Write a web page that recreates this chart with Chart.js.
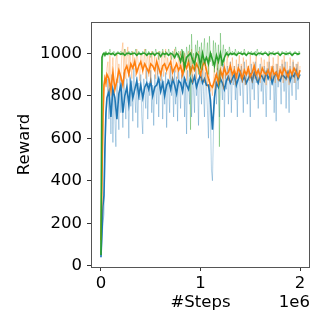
<!DOCTYPE html>
<html>
<head>
<meta charset="utf-8">
<script src="https://cdn.jsdelivr.net/npm/chart.js@4"></script>
<style>
  html, body { margin: 0; padding: 0; background: #fff; }
  #wrap { width: 332px; height: 332px; }
</style>
</head>
<body>
<div id="wrap"><canvas id="myChart" width="332" height="332"></canvas></div>
<script>
// smoothed curves: steps in thousands
const kSteps = [0, 10, 20, 30, 40, 50, 60,
  80, 100, 120, 140, 160, 180, 200, 220, 240, 260,
  280, 300, 320, 340, 360, 380, 400, 420, 440, 460,
  480, 500, 520, 540, 560, 580, 600, 620, 640, 660,
  680, 700, 720, 740, 760, 780, 800, 820, 840, 860,
  880, 900, 920, 940, 960, 980, 1000, 1020, 1040, 1060,
  1080, 1100, 1120, 1140, 1160, 1180, 1200, 1220, 1240, 1260,
  1280, 1300, 1320, 1340, 1360, 1380, 1400, 1420, 1440, 1460,
  1480, 1500, 1520, 1540, 1560, 1580, 1600, 1620, 1640, 1660,
  1680, 1700, 1720, 1740, 1760, 1780, 1800, 1820, 1840, 1860,
  1880, 1900, 1920, 1940, 1960, 1980, 2000];

// raw curves: steps in thousands
const rawSteps = [0, 10, 20, 30, 40, 50, 60, 70, 80, 90, 100, 110, 120, 130, 140, 150, 160, 170, 180, 190,
  200, 210, 220, 230, 240, 250, 260, 270, 280, 290, 300, 310, 320, 330, 340, 350, 360, 370, 380, 390,
  400, 410, 420, 430, 440, 450, 460, 470, 480, 490, 500, 510, 520, 530, 540, 550, 560, 570, 580, 590,
  600, 610, 620, 630, 640, 650, 660, 670, 680, 690, 700, 710, 720, 730, 740, 750, 760, 770, 780, 790,
  800, 810, 820, 830, 840, 850, 860, 870, 880, 890, 900, 910, 920, 930, 940, 950, 960, 970, 980, 990,
  1000, 1010, 1020, 1030, 1040, 1050, 1060, 1070, 1080, 1090, 1100, 1110, 1120, 1130, 1140, 1150, 1160, 1170, 1180, 1190,
  1200, 1210, 1220, 1230, 1240, 1250, 1260, 1270, 1280, 1290, 1300, 1310, 1320, 1330, 1340, 1350, 1360, 1370, 1380, 1390,
  1400, 1410, 1420, 1430, 1440, 1450, 1460, 1470, 1480, 1490, 1500, 1510, 1520, 1530, 1540, 1550, 1560, 1570, 1580, 1590,
  1600, 1610, 1620, 1630, 1640, 1650, 1660, 1670, 1680, 1690, 1700, 1710, 1720, 1730, 1740, 1750, 1760, 1770, 1780, 1790,
  1800, 1810, 1820, 1830, 1840, 1850, 1860, 1870, 1880, 1890, 1900, 1910, 1920, 1930, 1940, 1950, 1960, 1970, 1980, 1990,
  2000];

const blueRaw = [40, 120, 200, 240, 450, 700, 760, 880, 690, 850, 620, 900, 580, 820, 700, 560, 880, 760, 640, 900,
  720, 860, 650, 910, 780, 690, 880, 820, 600, 900, 750, 870, 680, 930, 800, 720, 890, 650, 860, 780,
  900, 700, 620, 880, 820, 740, 930, 690, 860, 800, 920, 720, 850, 660, 900, 830, 760, 940, 700, 880,
  820, 930, 690, 870, 760, 910, 650, 880, 840, 720, 940, 800, 870, 700, 920, 760, 890, 680, 930, 850,
  740, 900, 810, 950, 700, 880, 620, 920, 860, 760, 940, 700, 900, 830, 720, 950, 800, 880, 660, 920,
  870, 760, 940, 820, 700, 910, 850, 730, 600, 880, 700, 450, 400, 620, 800, 900, 760, 930, 840, 700,
  920, 860, 780, 950, 700, 900, 830, 940, 760, 880, 960, 720, 910, 850, 940, 780, 900, 700, 950, 860,
  800, 940, 880, 720, 960, 850, 910, 760, 940, 880, 700, 950, 830, 900, 780, 960, 860, 920, 740, 910,
  950, 820, 900, 760, 940, 870, 700, 930, 880, 960, 780, 910, 850, 940, 720, 900, 680, 950, 840, 920,
  880, 760, 950, 900, 820, 960, 740, 920, 870, 720, 940, 880, 800, 960, 860, 910, 780, 950, 830, 900,
  920];
const blueSmooth = [40, 150, 280, 330, 560, 720, 790,
  820, 700, 830, 790, 690, 810, 850, 720, 800, 840,
  760, 860, 790, 830, 870, 800, 850, 790, 840, 860,
  830, 870, 800, 840, 850, 880, 820, 860, 800, 850,
  870, 830, 880, 850, 810, 870, 860, 820, 880, 850,
  830, 880, 860, 890, 840, 870, 900, 860, 880, 850,
  850, 780, 640, 790, 860, 840, 880, 860, 830, 870,
  890, 860, 880, 900, 850, 880, 910, 870, 890, 860,
  880, 900, 870, 910, 880, 860, 900, 890, 870, 910,
  880, 900, 860, 890, 910, 880, 870, 900, 890, 880,
  910, 870, 900, 890, 920, 880, 900];

const orangeRaw = [100, 350, 600, 780, 900, 840, 930, 960, 820, 990, 800, 900, 980, 870, 830, 970, 1000, 860, 950, 900,
  870, 1010, 1050, 900, 1020, 880, 990, 1030, 890, 1000, 960, 880, 1010, 940, 980, 890, 1020, 970, 930, 870,
  990, 1000, 900, 960, 1020, 880, 970, 1000, 890, 990, 860, 1010, 950, 920, 1000, 880, 980, 900, 1010, 950,
  870, 990, 1010, 890, 960, 1020, 900, 980, 940, 880, 1000, 960, 870, 990, 1020, 910, 960, 880, 1000, 940,
  1010, 880, 980, 900, 1000, 960, 870, 990, 1010, 890, 950, 1020, 860, 980, 920, 1000, 880, 960, 1010, 900,
  950, 870, 990, 920, 860, 960, 900, 840, 980, 880, 820, 850, 800, 880, 940, 830, 900, 960, 850, 920,
  870, 980, 900, 830, 960, 880, 950, 990, 870, 940, 960, 860, 980, 900, 940, 850, 970, 880, 930, 990,
  880, 950, 860, 980, 920, 850, 970, 900, 940, 870, 990, 910, 860, 960, 880, 950, 990, 870, 930, 900,
  860, 980, 940, 880, 970, 900, 850, 960, 910, 990, 870, 940, 880, 980, 920, 860, 950, 900, 990, 870,
  940, 880, 970, 860, 990, 920, 870, 960, 900, 850, 980, 930, 880, 970, 910, 860, 950, 900, 960, 880,
  940];
const orangeSmooth = [120, 400, 700, 850, 880, 860, 900,
  880, 830, 910, 830, 870, 920, 890, 850, 920, 940,
  900, 950, 930, 960, 910, 940, 960, 920, 950, 930,
  910, 950, 940, 920, 960, 930, 900, 940, 950, 920,
  940, 960, 910, 930, 950, 920, 940, 900, 950, 930,
  960, 910, 940, 920, 950, 930, 900, 940, 960, 920,
  880, 850, 840, 870, 900, 860, 920, 890, 930, 900,
  910, 940, 900, 920, 890, 930, 910, 880, 920, 900,
  930, 890, 910, 940, 900, 920, 890, 930, 910, 900,
  920, 890, 930, 900, 910, 880, 920, 900, 930, 910,
  890, 920, 900, 930, 910, 890, 920];

const greenRaw = [50, 900, 1000, 1000, 1000, 1010, 1000, 990, 1000, 1020, 1000, 990, 1000, 1010, 1000, 1000, 990, 1010, 1000, 1000,
  1010, 1000, 990, 1000, 1020, 1000, 1000, 990, 1010, 1000, 1000, 1010, 990, 1000, 1000, 1020, 990, 1000, 1010, 1000,
  1000, 990, 1010, 1000, 1000, 1020, 990, 1000, 1010, 1000, 980, 1000, 1010, 1000, 990, 1020, 1000, 1000, 970, 1010,
  1000, 990, 1020, 1000, 980, 1010, 1000, 990, 1020, 1000, 1000, 970, 1010, 1000, 990, 1030, 1000, 980, 1010, 1000,
  990, 1020, 960, 1010, 1000, 940, 1030, 990, 960, 1040, 640, 1090, 950, 1000, 920, 1040, 980, 1060, 900, 1030,
  960, 1050, 920, 1000, 1070, 940, 990, 1050, 900, 1080, 960, 1000, 940, 1060, 910, 1050, 990, 920, 1040, 560,
  1095, 940, 1000, 1040, 960, 1020, 990, 1010, 980, 1030, 1000, 990, 1010, 1000, 990, 1020, 1000, 990, 1010, 1000,
  1000, 1010, 990, 1000, 1020, 1000, 990, 1000, 1010, 1000, 990, 1010, 1000, 1000, 990, 1010, 1000, 1020, 1000, 990,
  1000, 1010, 1000, 990, 1000, 1010, 1000, 1000, 990, 1010, 1000, 990, 1000, 1010, 1000, 990, 1000, 1000, 1010, 1000,
  990, 1000, 1010, 1000, 1000, 990, 1010, 1000, 990, 1000, 1010, 1000, 1000, 990, 1000, 1010, 1000, 990, 1000, 1010,
  1000];
const greenSmooth = [50, 980, 995, 1000, 990, 1000, 995,
  1000, 995, 1000, 990, 1000, 1000, 995, 1000, 990, 1000,
  1000, 995, 1000, 1000, 990, 1000, 995, 1000, 1000, 990,
  1000, 995, 1000, 990, 1000, 1000, 985, 1000, 995, 1000,
  990, 1000, 995, 980, 1000, 990, 960, 1000, 930, 980,
  990, 1000, 970, 950, 1000, 990, 940, 1000, 960, 980,
  950, 1000, 970, 940, 990, 960, 1000, 950, 980, 1000,
  990, 1000, 995, 1000, 990, 1000, 1000, 995, 1000, 990,
  1000, 1000, 995, 1000, 990, 1000, 1000, 995, 1000, 1000,
  990, 1000, 1000, 995, 1000, 1000, 990, 1000, 1000, 995,
  1000, 1000, 990, 1000, 1000, 995, 1000];

const xTicks = [0, 1000000, 2000000];
const yTicks = [0, 200, 400, 600, 800, 1000];

const FONT = 'DejaVu Sans';
const FS = 16.5;

function pts(steps, vals) {
  return vals.map(function(v, i) { return { x: steps[i] * 1000, y: v }; });
}

function line(steps, vals, color, width) {
  return {
    data: pts(steps, vals),
    borderColor: color,
    borderWidth: width,
    pointRadius: 0,
    tension: 0,
    fill: false
  };
}

// first dataset is drawn on top
var datasets = [
  line(kSteps, greenSmooth, '#2ca02c', 1.6),
  line(rawSteps, greenRaw, 'rgba(44,160,44,0.35)', 1),
  line(kSteps, orangeSmooth, '#ff7f0e', 1.6),
  line(rawSteps, orangeRaw, 'rgba(255,127,14,0.3)', 1),
  line(kSteps, blueSmooth, '#1f77b4', 1.6),
  line(rawSteps, blueRaw, 'rgba(31,119,180,0.32)', 1)
];

var framePlugin = {
  id: 'frame',
  afterDraw: function(chart) {
    var a = chart.chartArea, ctx = chart.ctx;
    ctx.save();
    ctx.strokeStyle = '#555';
    ctx.lineWidth = 1;
    ctx.strokeRect(Math.round(a.left) + 0.5, Math.round(a.top) + 0.5,
      Math.round(a.right - a.left) - 1, Math.round(a.bottom - a.top));
    ctx.fillStyle = '#000';
    ctx.font = FS + 'px "' + FONT + '"';
    ctx.textAlign = 'right';
    ctx.textBaseline = 'middle';
    ctx.fillText('1e6', a.right, 303);
    ctx.restore();
  }
};

var ctx = document.getElementById('myChart').getContext('2d');
var myChart = new Chart(ctx, {
  type: 'line',
  data: { datasets: datasets },
  plugins: [framePlugin],
  options: {
    responsive: false,
    animation: false,
    layout: { padding: { left: 11, right: 22, top: 22, bottom: 15 } },
    plugins: { legend: { display: false }, tooltip: { enabled: false } },
    scales: {
      x: {
        type: 'linear',
        min: -100000,
        max: 2100000,
        afterBuildTicks: function(s) { s.ticks = xTicks.map(function(v) { return { value: v }; }); },
        afterFit: function(s) { s.height = 50; },
        grid: { drawOnChartArea: false, drawTicks: true, tickLength: 4, color: '#333' },
        border: { display: false },
        ticks: {
          color: '#000',
          padding: 3,
          maxRotation: 0,
          font: { family: FONT, size: FS },
          callback: function(v) { return String(v / 1000000); }
        },
        title: { display: true, text: '#Steps', color: '#000', padding: 4, font: { family: FONT, size: FS } }
      },
      y: {
        type: 'linear',
        min: -6,
        max: 1147,
        afterBuildTicks: function(s) { s.ticks = yTicks.map(function(v) { return { value: v }; }); },
        afterFit: function(s) { s.width = 80; },
        grid: { drawOnChartArea: false, drawTicks: true, tickLength: 4, color: '#333' },
        border: { display: false },
        ticks: {
          color: '#000',
          padding: 5,
          font: { family: FONT, size: FS },
          callback: function(v) { return String(v); }
        },
        title: { display: true, text: 'Reward', color: '#000', padding: 4, font: { family: FONT, size: FS } }
      }
    }
  }
});
</script>
</body>
</html>
